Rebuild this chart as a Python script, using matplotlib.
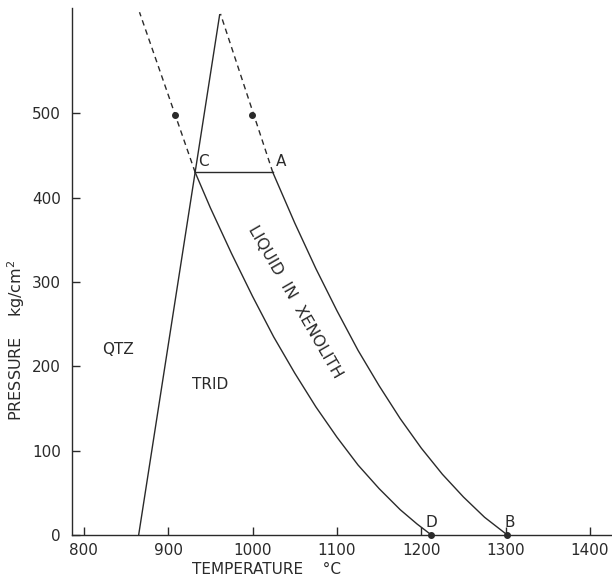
import matplotlib
matplotlib.use("Agg")
import matplotlib.pyplot as plt

# ---- data ----
xticks = [800, 900, 1000, 1100, 1200, 1300, 1400]
yticks = [0, 100, 200, 300, 400, 500]

qtz_trid_T = [865, 961]
qtz_trid_P = [0, 617]

cd_T = [932, 950, 975, 1000, 1025, 1050, 1075, 1100, 1125, 1150, 1175, 1195, 1212]
cd_P = [430, 388, 334, 283, 235, 192, 152, 116, 83, 55, 30, 13, 0]

ab_T = [1024, 1050, 1075, 1100, 1125, 1150, 1175, 1200, 1225, 1250, 1275, 1302]
ab_P = [430, 370, 316, 266, 219, 177, 138, 103, 72, 45, 21, 0]

ca_T = [932, 1024]
ca_P = [430, 430]

dash_left_T = [932, 866]
dash_left_P = [430, 620]
dash_right_T = [1024, 962]
dash_right_P = [430, 618]

dots_T = [908, 999, 1212, 1302]
dots_P = [498, 498, 0, 0]

col = "#2a2a2a"
fig = plt.figure(figsize=(6.12, 5.79), dpi=100)
ax = fig.add_axes([72/612, 44/579, 540/612, 527/579])
ax.set_xlim(786, 1426)
ax.set_ylim(0, 625)

lw = 1.0
ax.plot(qtz_trid_T, qtz_trid_P, color=col, lw=lw)
ax.plot(cd_T, cd_P, color=col, lw=lw)
ax.plot(ab_T, ab_P, color=col, lw=lw)
ax.plot(ca_T, ca_P, color=col, lw=lw)
ax.plot(dash_left_T, dash_left_P, color=col, lw=lw, ls=(0, (4, 3)))
ax.plot(dash_right_T, dash_right_P, color=col, lw=lw, ls=(0, (4, 3)))
ax.plot(dots_T, dots_P, 'o', color=col, ms=4, clip_on=False, zorder=5)

for s in ["top", "right"]:
    ax.spines[s].set_visible(False)
for s in ["left", "bottom"]:
    ax.spines[s].set_color(col)
    ax.spines[s].set_linewidth(1.0)

ax.set_xticks(xticks)
ax.set_yticks(yticks)
ax.tick_params(direction="in", length=6, width=1, colors=col, labelsize=11, pad=6)
ax.tick_params(axis="y", pad=8)

fs = 11
ax.text(936, 434, "C", fontsize=fs, color=col, ha="left", va="bottom")
ax.text(1028, 434, "A", fontsize=fs, color=col, ha="left", va="bottom")
ax.text(1212, 6, "D", fontsize=fs, color=col, ha="center", va="bottom")
ax.text(1305, 6, "B", fontsize=fs, color=col, ha="center", va="bottom")
ax.text(840, 220, "QTZ", fontsize=fs, color=col, ha="center", va="center")
ax.text(950, 178, "TRID", fontsize=fs, color=col, ha="center", va="center")
ax.text(1050, 277, "LIQUID  IN  XENOLITH", fontsize=11.5, color=col,
        ha="center", va="center", rotation=-60, rotation_mode="anchor")

fig.text(267/612, 1 - 569/579, "TEMPERATURE    °C", fontsize=11, color=col,
         ha="center", va="center")
fig.text(16/612, 1 - 340/579, "PRESSURE    kg/cm$^2$", fontsize=11.5, color=col,
         ha="center", va="center", rotation=90)

fig.savefig("out.png", dpi=100)
